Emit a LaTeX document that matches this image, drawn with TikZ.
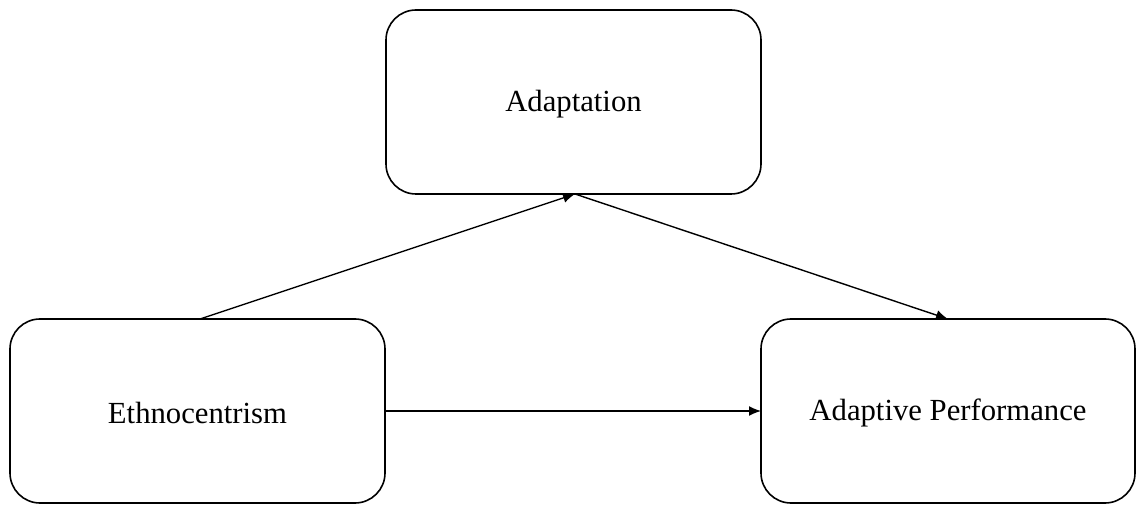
\documentclass[tikz,border=0pt]{standalone}
\usepackage{fontspec}
\setmainfont{Liberation Serif}
\usetikzlibrary{arrows.meta}
\begin{document}
\begin{tikzpicture}[x=1pt,y=-1pt,
  box/.style={draw, line width=1.6pt, rounded corners=30pt, inner sep=0pt},
  conn/.style={line width=1.4pt, -{Latex[length=12pt,width=10pt]}},
  lbl/.style={font=\fontsize{30.7}{36}\selectfont}]
\useasboundingbox (0,0) rectangle (1136,505);
\draw[box] (386,10) rectangle (761,194);
\draw[box] (10,319) rectangle (385,503);
\draw[box] (761,319) rectangle (1135,503);
\node[lbl] (adapt) at (573.5,104) {Adaptation};
\node[lbl] (ethno) at (197.5,413) {Ethnocentrism};
\node[lbl] (perf) at (948,413) {Adaptive Performance};
\coordinate (ethnoTop) at (200,319);
\coordinate (adaptBot) at (575,194);
\coordinate (perfTop) at (948,319);
\coordinate (ethnoR) at (385,411);
\coordinate (perfL) at (761,411);
\draw[conn] (ethnoTop) -- (adaptBot);
\draw[conn] (adaptBot) -- (perfTop);
\draw[conn] (ethnoR) -- (perfL);
\end{tikzpicture}
\end{document}
